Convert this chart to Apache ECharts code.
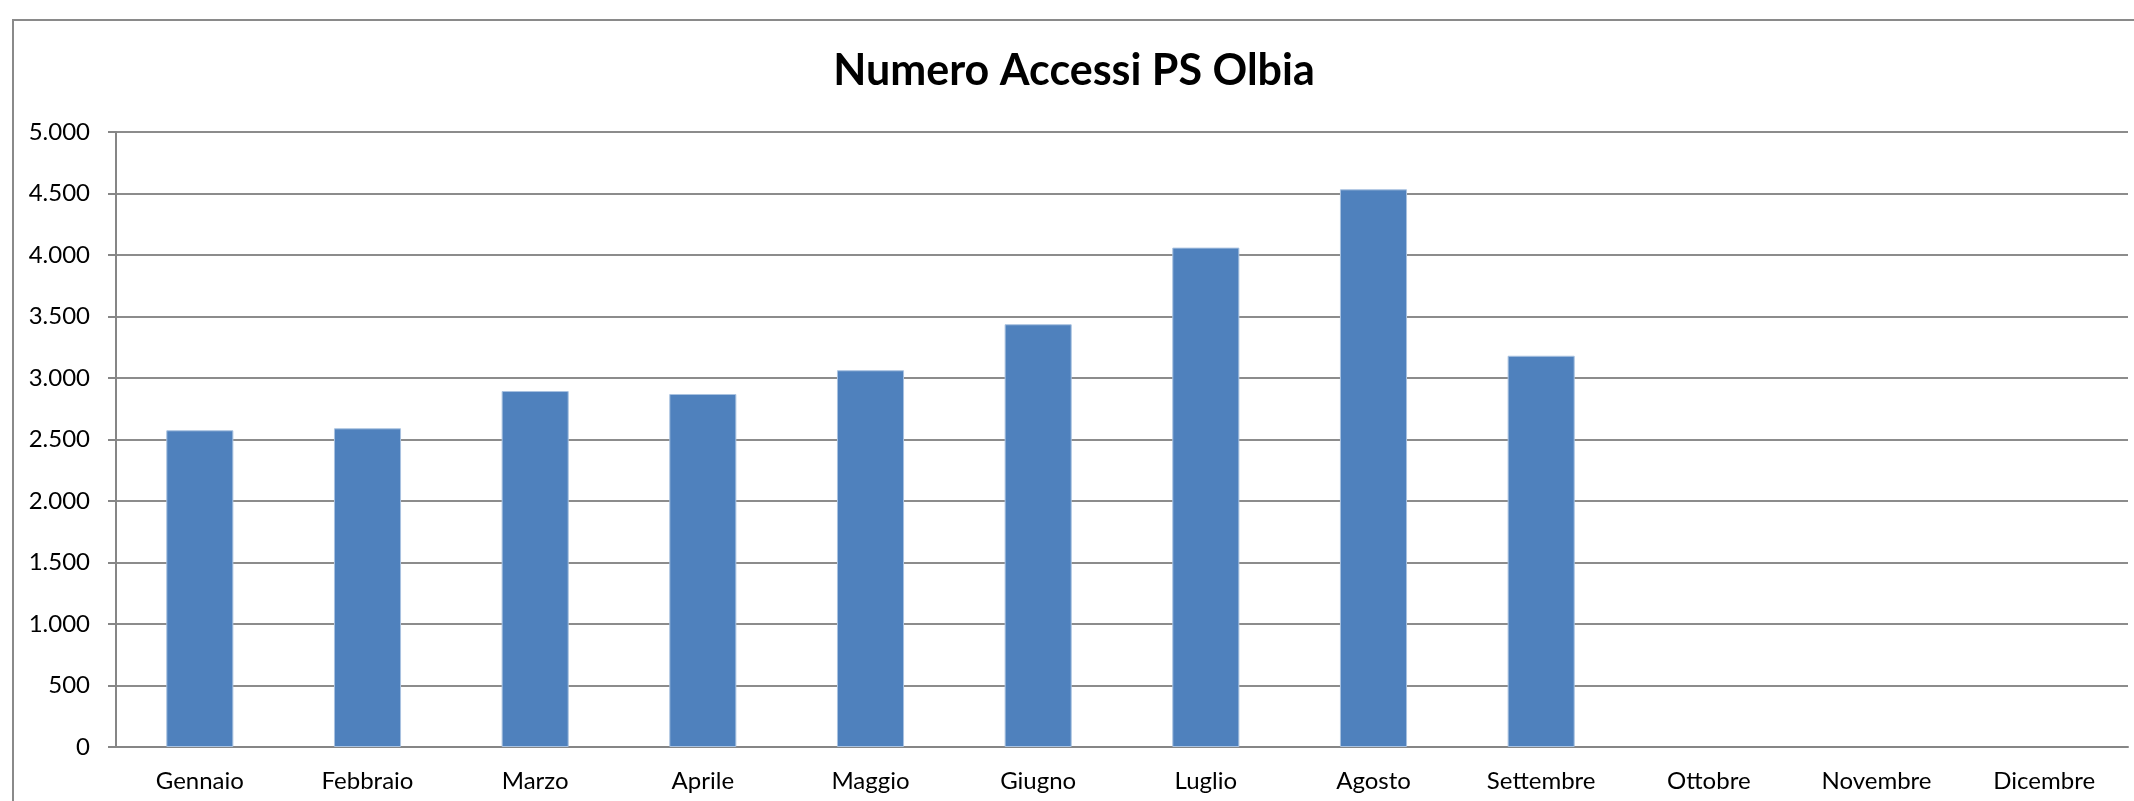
<!DOCTYPE html>
<html>
<head>
<meta charset="utf-8">
<script src="https://cdn.jsdelivr.net/npm/echarts@6/dist/echarts.min.js"></script>
<style>
html,body{margin:0;padding:0;background:#fff;}
#chart{width:2134px;height:801px;}
</style>
</head>
<body>
<div id="chart"></div>
<script>
const titleText = 'Numero Accessi PS Olbia';
const categories = ['Gennaio','Febbraio','Marzo','Aprile','Maggio','Giugno','Luglio','Agosto','Settembre','Ottobre','Novembre','Dicembre'];
const accessi = [2575, 2591, 2894, 2870, 3063, 3437, 4060, 4534, 3181, null, null, null];
const yMin = 0, yMax = 5000, yStep = 500;

const FONT = 'Lato, "Open Sans", sans-serif';
const chart = echarts.init(document.getElementById('chart'), null, {renderer:'canvas'});
chart.setOption({
  animation:false,
  backgroundColor:'#ffffff',
  graphic:[{
    type:'rect', silent:true, z:-1,
    shape:{x:13, y:20, width:2200, height:900},
    style:{fill:'none', stroke:'#8a8a8a', lineWidth:2}
  }],
  title:{
    text:titleText, left:1069, top:45, textAlign:'center',
    textStyle:{fontFamily:FONT, fontWeight:'bold', fontSize:43, color:'#000'}
  },
  grid:{left:116, right:6, top:132, bottom:54, containLabel:false},
  xAxis:{
    type:'category', data:categories,
    axisLine:{show:true, lineStyle:{color:'#868686', width:2}},
    axisTick:{show:false},
    axisLabel:{color:'#000', fontFamily:FONT, fontSize:24, margin:22, interval:0}
  },
  yAxis:{
    type:'value', min:yMin, max:yMax, interval:yStep,
    axisLine:{show:true, lineStyle:{color:'#868686', width:2}},
    axisTick:{show:true, length:8, lineStyle:{color:'#868686', width:2}},
    splitLine:{show:true, lineStyle:{color:'#8c8c8c', width:2}},
    axisLabel:{color:'#000', fontFamily:FONT, fontSize:24, margin:26,
      formatter:v => v.toString().replace(/\B(?=(\d{3})+(?!\d))/g, '.')}
  },
  series:[{
    type:'bar', data:accessi, barCategoryGap:'60%',
    itemStyle:{color:'#4F81BD', borderColor:'#A9C2E0', borderWidth:1}
  }]
});
</script>
</body>
</html>
